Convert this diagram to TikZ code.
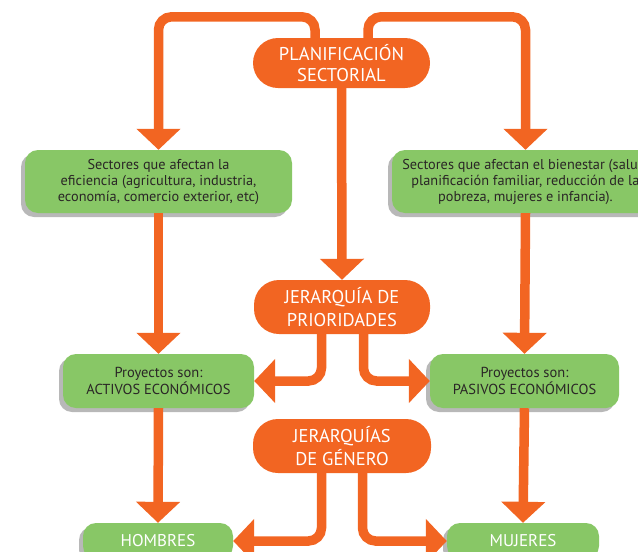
\documentclass[tikz,border=0pt]{standalone}
\usepackage{fontspec}
\setmainfont{PT Sans}
\usetikzlibrary{arrows.meta,shadows,calc}
\definecolor{orng}{HTML}{F26522}
\definecolor{grn}{HTML}{88C766}
\definecolor{txt}{HTML}{2A2626}
\tikzset{
  obox/.style={fill=orng,draw=none,rounded corners=25pt,text=white,align=center,inner sep=0pt,
    font=\fontsize{18.5}{22.5}\selectfont},
  gbox/.style={fill=grn,draw=none,rounded corners=13pt,text=txt,align=center,inner sep=0pt,
    drop shadow={shadow xshift=-4pt,shadow yshift=-4pt,fill=black!28,opacity=1},
    font=\fontsize{14.3}{16}\selectfont},
  conn/.style={draw=orng,line width=9.5pt,rounded corners=13pt,
    -{Triangle[width=43pt,length=21pt]}},
}
\begin{document}
\begin{tikzpicture}[x=1pt,y=-1pt]
\useasboundingbox (0,0) rectangle (638,552);
\clip (0,0) rectangle (638,552);
% nodes
\node[obox,minimum width=177pt,minimum height=50pt,font=\fontsize{18.5}{20.5}\selectfont] (plan) at (341.5,63) {PLANIFICACIÓN\\SECTORIAL};
\node[gbox,minimum width=267pt,minimum height=63pt] (secl) at (158.5,181.5) {Sectores que afectan la\\eficiencia (agricultura, industria,\\economía, comercio exterior, etc)};
\node[gbox,minimum width=267pt,minimum height=63pt] (secr) at (525.5,181.5) {Sectores que afectan el bienestar (salud,\\planificación familiar, reducción de la\\pobreza, mujeres e infancia).};
\node[obox,minimum width=176pt,minimum height=54pt] (jer) at (342,307) {JERARQUÍA DE\\PRIORIDADES};
\node[gbox,minimum width=191pt,minimum height=54pt,font=\fontsize{14.5}{17}\selectfont] (act) at (158.5,381) {Proyectos son:\\ACTIVOS ECONÓMICOS};
\node[gbox,minimum width=189pt,minimum height=54pt,font=\fontsize{14.5}{17}\selectfont] (pas) at (524.5,381) {Proyectos son:\\PASIVOS ECONÓMICOS};
\node[obox,minimum width=178pt,minimum height=54pt] (gen) at (342,446) {JERARQUÍAS\\DE GÉNERO};
\node[gbox,minimum width=150pt,minimum height=36pt,text=white,font=\fontsize{17}{21}\selectfont] (hom) at (158,541) {HOMBRES};
\node[gbox,minimum width=152pt,minimum height=36pt,text=white,font=\fontsize{17}{21}\selectfont] (muj) at (523,541) {MUJERES};
% connectors
\draw[conn] ([xshift=-26.5pt]plan.north) -- ++(0,-21) -| (secl.north);
\draw[conn] ([xshift=26.5pt]plan.north) -- ++(0,-21) -| (secr.north);
\draw[conn] (plan.south) -- (jer.north);
\draw[conn] (secl.south) -- (act.north);
\draw[conn] (secr.south) -- (pas.north);
\draw[conn] ([xshift=-20.5pt]jer.south) |- (act.east);
\draw[conn] ([xshift=21.5pt]jer.south) |- (pas.west);
\draw[conn] (act.south) -- (hom.north);
\draw[conn] (pas.south) -- (muj.north);
\draw[conn] ([xshift=-20.5pt]gen.south) |- (hom.east);
\draw[conn] ([xshift=20.5pt]gen.south) |- (muj.west);
\end{tikzpicture}
\end{document}
